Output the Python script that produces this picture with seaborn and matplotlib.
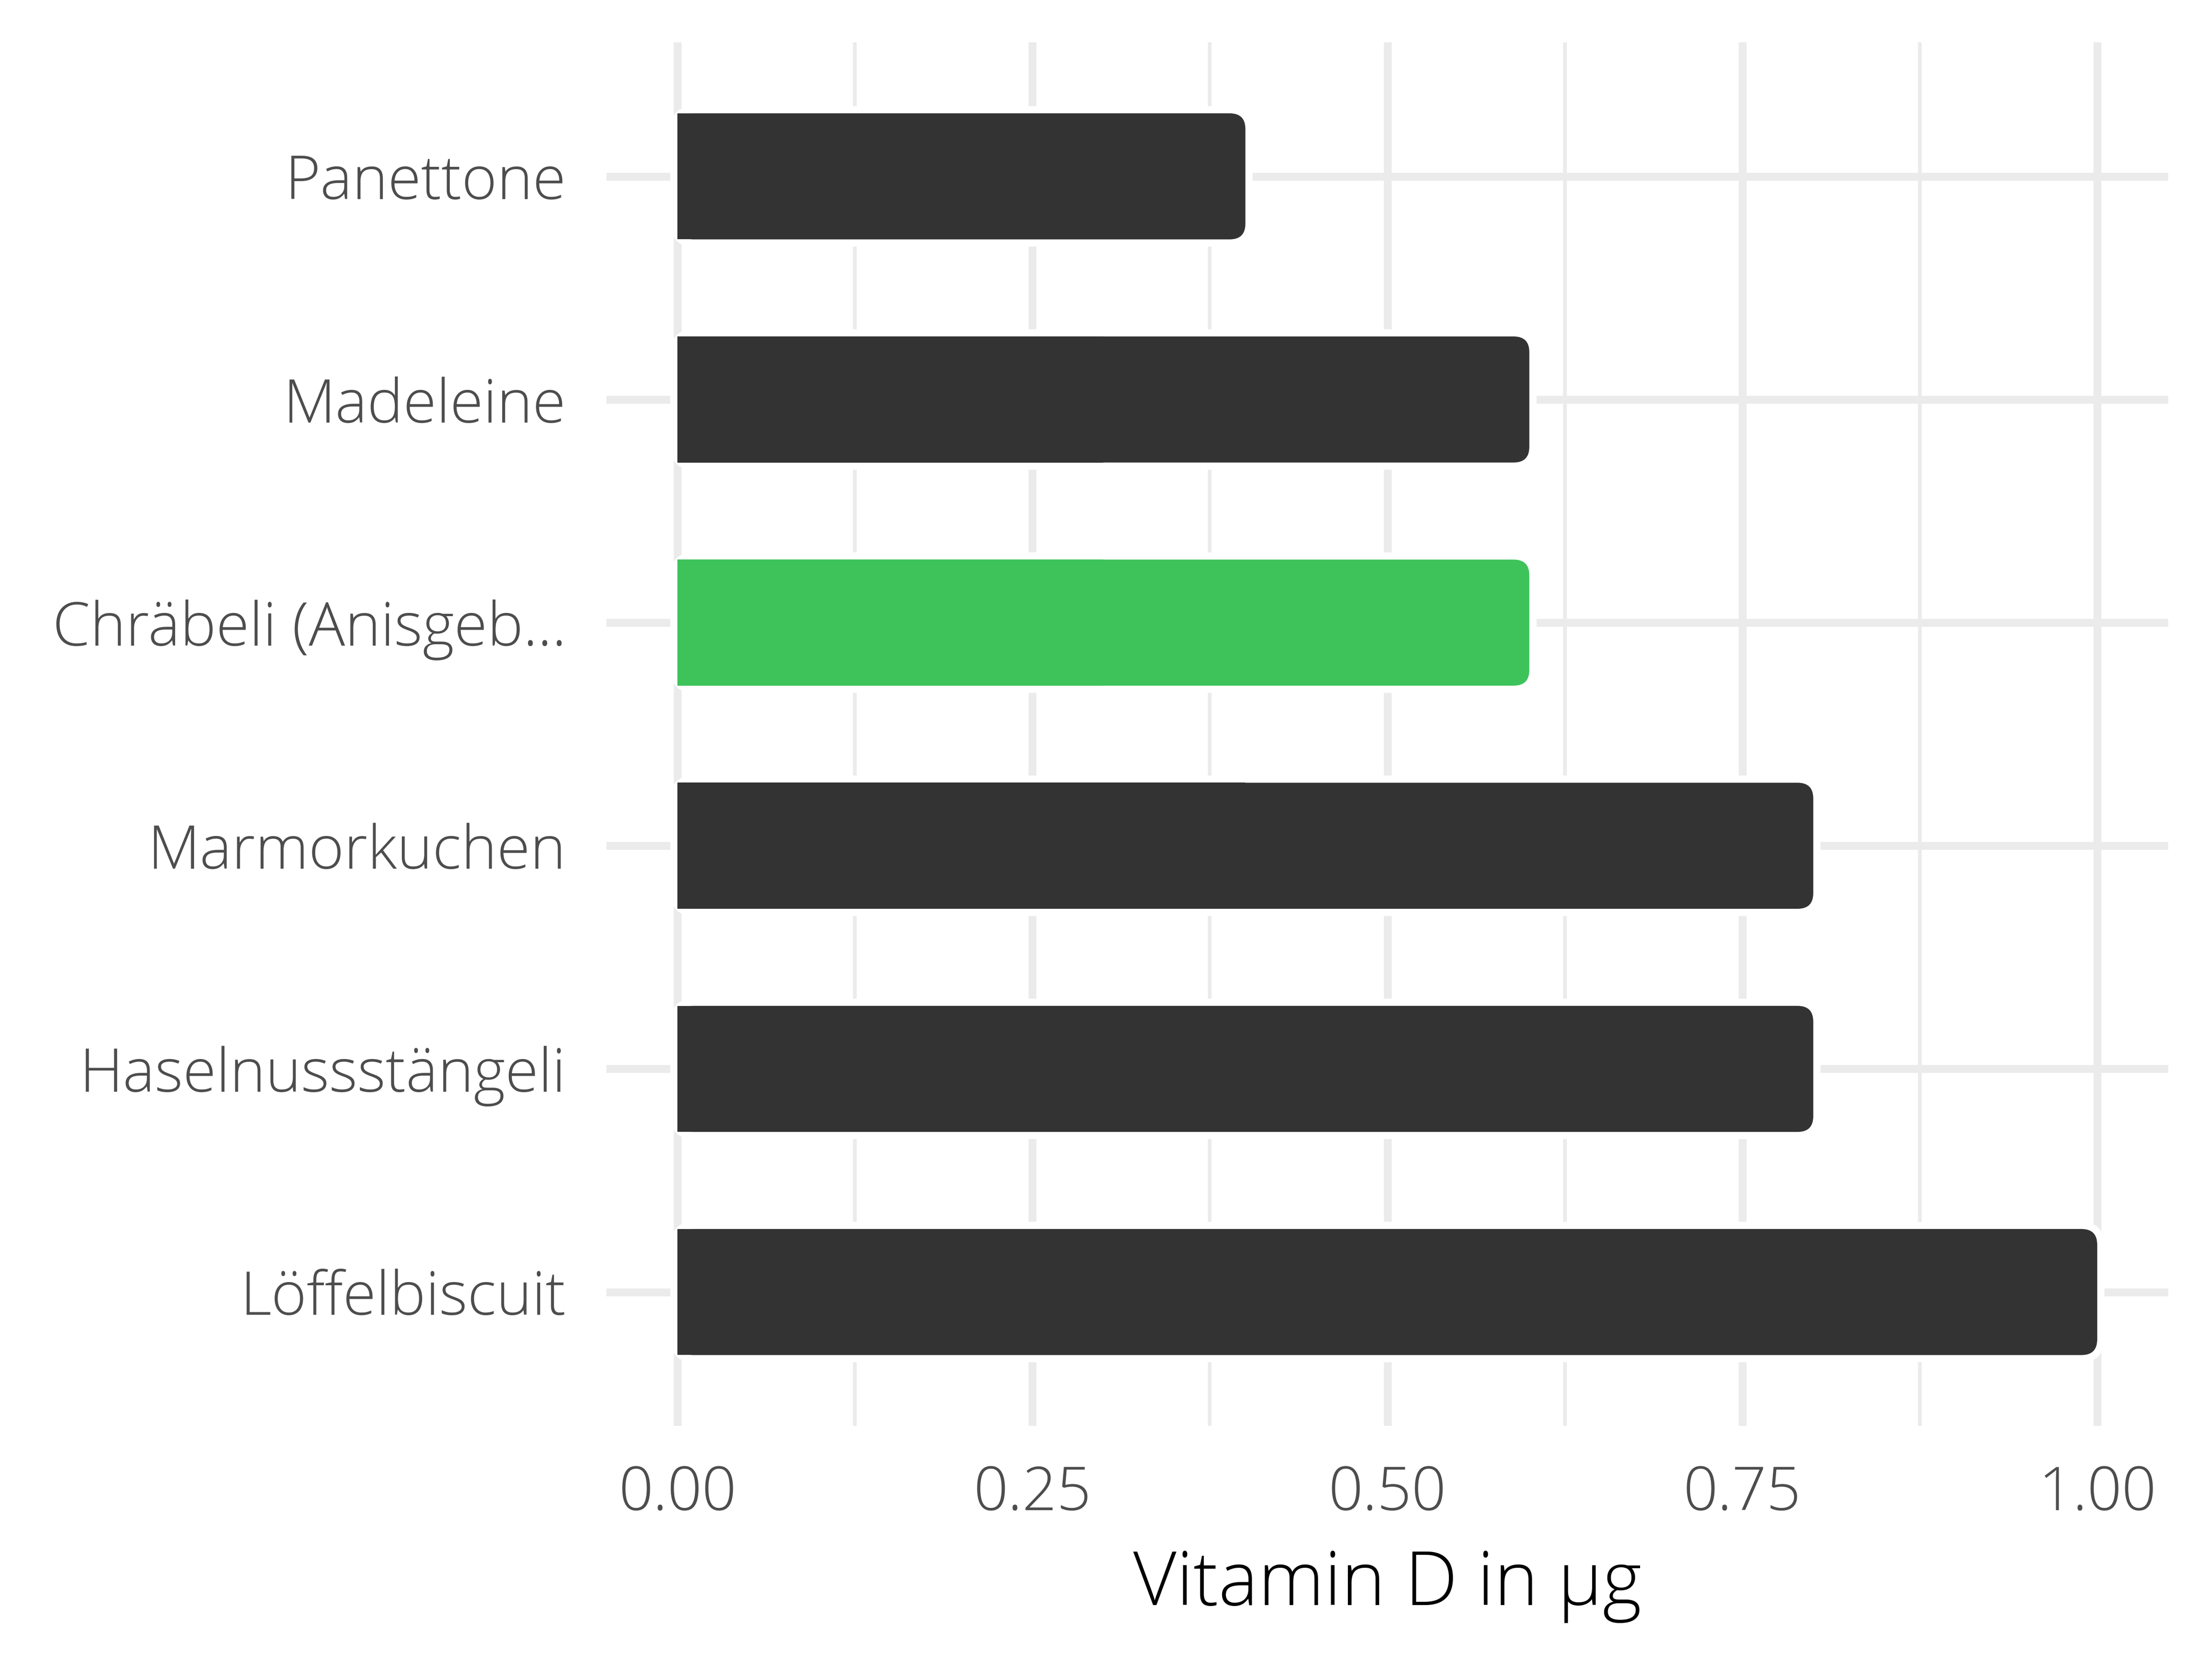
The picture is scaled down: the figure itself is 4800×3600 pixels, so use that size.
import matplotlib
matplotlib.use("Agg")
import matplotlib.pyplot as plt
import seaborn as sns
import pandas as pd
from matplotlib.patches import FancyBboxPatch, Rectangle
from matplotlib.ticker import FixedLocator, MultipleLocator

# ---- data ----
foods = ["Panettone", "Madeleine", "Chräbeli (Anisgeb...", "Marmorkuchen",
         "Haselnussstängeli", "Löffelbiscuit"]
values = [0.4, 0.6, 0.6, 0.8, 0.8, 1.0]
highlight = "Chräbeli (Anisgeb..."
xticks = [0.0, 0.25, 0.5, 0.75, 1.0]
xticklabels = ["0.00", "0.25", "0.50", "0.75", "1.00"]
xlabel = "Vitamin D in µg"

# ---- style ----
sns.set_theme(style="white")
plt.rcParams['font.family'] = ['Open Sans', 'DejaVu Sans']

DARK = "#333333"
GREEN = "#3DC35A"
GRID = "#EBEBEB"
TICKC = "#4D4D4D"

fig = plt.figure(figsize=(16, 12), dpi=300)
ax = fig.add_axes([0.2742, 0.1405, 0.9802 - 0.2742, 0.9744 - 0.1405])

df = pd.DataFrame({"food": foods, "value": values})
palette = {f: (GREEN if f == highlight else DARK) for f in foods}
sns.barplot(data=df, y="food", x="value", hue="food", order=foods,
            palette=palette, width=0.565, legend=False, saturation=1,
            ax=ax, zorder=3)

ax.set_xlim(-0.05, 1.05)
ax.set_ylim(len(foods) - 1 + 0.6, -0.6)

ax.xaxis.set_major_locator(FixedLocator(xticks))
ax.set_xticklabels(xticklabels)
ax.xaxis.set_minor_locator(MultipleLocator(0.125))
ax.set_axisbelow(True)
ax.grid(which="major", axis="both", color=GRID, lw=4.1)
ax.grid(which="minor", axis="x", color=GRID, lw=1.9)
for s in ax.spines.values():
    s.set_visible(False)
ax.tick_params(axis="both", which="both", length=0)
ax.tick_params(axis="y", labelsize=31.5, labelcolor=TICKC, pad=21)
ax.tick_params(axis="x", labelsize=31.5, labelcolor=TICKC, pad=20)
for lab in ax.get_xticklabels() + ax.get_yticklabels():
    lab.set_fontweight("light")
ax.set_ylabel("")
ax.set_xlabel(xlabel, fontsize=39, color="black", labelpad=12, fontweight="light")

# ---- rounded right corners with white outline ----
px_per_x = ax.transData.transform((1, 0))[0] - ax.transData.transform((0, 0))[0]
px_per_y = abs(ax.transData.transform((0, 1))[1] - ax.transData.transform((0, 0))[1])
r = 34 / px_per_x
m = px_per_x / px_per_y
for p in list(ax.patches):
    x0, y0, w, h = p.get_x(), p.get_y(), p.get_width(), p.get_height()
    col = p.get_facecolor()
    p.set_visible(False)
    if w <= 0:
        continue
    style = f"round,pad=0,rounding_size={r}"
    ax.add_patch(FancyBboxPatch((x0, y0), w, h, boxstyle=style, mutation_aspect=m,
                                fc="none", ec="white", lw=7.5, zorder=2.5))
    ax.add_patch(FancyBboxPatch((x0, y0), w, h, boxstyle=style, mutation_aspect=m,
                                fc=col, ec="none", zorder=3))
    ax.add_patch(Rectangle((x0, y0), w / 2, h, fc=col, ec="none", zorder=3))

fig.savefig("out.png", dpi=300)
